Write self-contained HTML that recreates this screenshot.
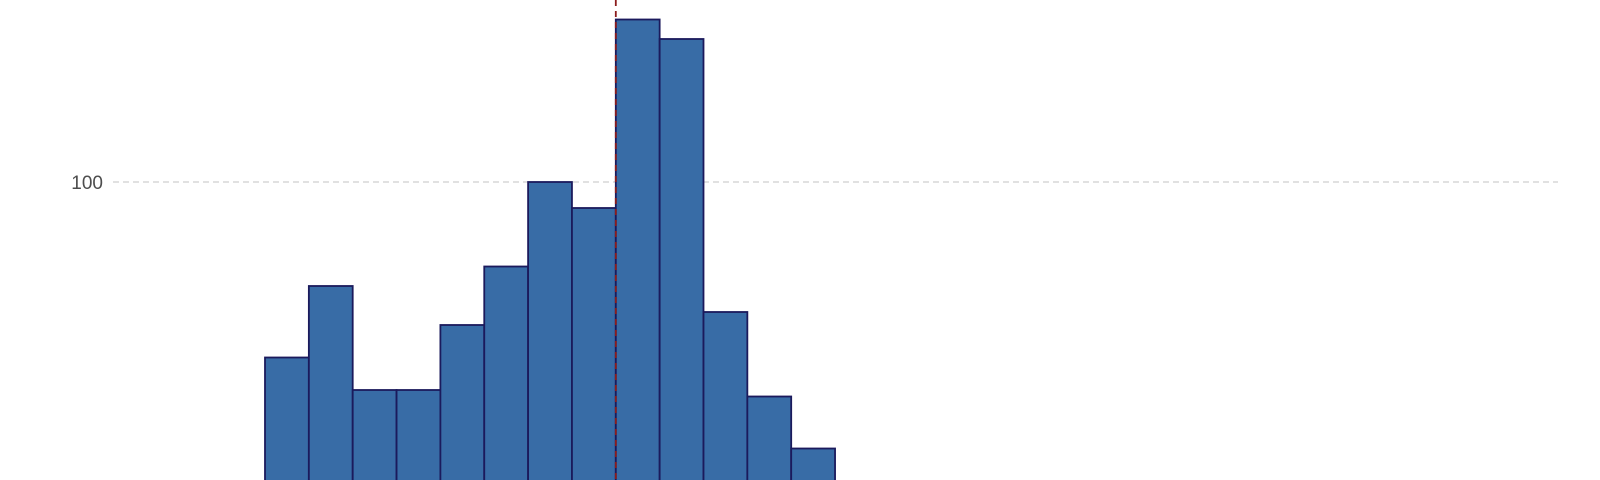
<!DOCTYPE html>
<html><head><meta charset="utf-8"><style>
html,body{margin:0;padding:0;background:#fff;}
svg{display:block;}
</style></head><body>
<svg id="chart" width="1600" height="480" xmlns="http://www.w3.org/2000/svg"></svg>
<script>
const binIndex = [0,1,2,3,4,5,6,7,8,9,10,11,12];
const counts = [73,84,68,68,78,87,100,96,125,122,80,67,59];
const yTicks = [100];
const yTickLabels = ["100"];
const refLineBin = [8];

const svg = document.getElementById('chart');
const NS = 'http://www.w3.org/2000/svg';
const xLeft = 265, binW = 43.85;
function xs(i){ return xLeft + i*binW; }
function ys(v){ return 182 - (v-100)*6.5; }
function mk(t, attrs){ const e=document.createElementNS(NS,t); for(const k in attrs) e.setAttribute(k,attrs[k]); svg.appendChild(e); return e; }

yTicks.forEach((t,i)=>{
  const g = mk('line',{x1:113,x2:1558,y1:ys(t),y2:ys(t),stroke:'#cfcfcf','stroke-width':1.2,'stroke-dasharray':'6,4'});
  
  
  const l = mk('text',{x:103,y:ys(t)+7,'text-anchor':'end','font-family':'Liberation Sans, sans-serif','font-size':19,fill:'#4d4d4d'});
  l.textContent = yTickLabels[i];
  
  
});

binIndex.forEach((b,i)=>{
  const top = ys(counts[i]);
  const r = mk('rect',{x:xs(b),y:top,width:binW,height:480-top+5,fill:'#386ca6',stroke:'#1b1a5c','stroke-width':1.8});
  
  
});

refLineBin.forEach(b=>{
  const v = mk('line',{x1:xs(b),x2:xs(b),y1:0,y2:480,stroke:'#8b1c1c','stroke-width':1.8,'stroke-dasharray':'6,5'});
  
  
});
</script>
</body></html>
